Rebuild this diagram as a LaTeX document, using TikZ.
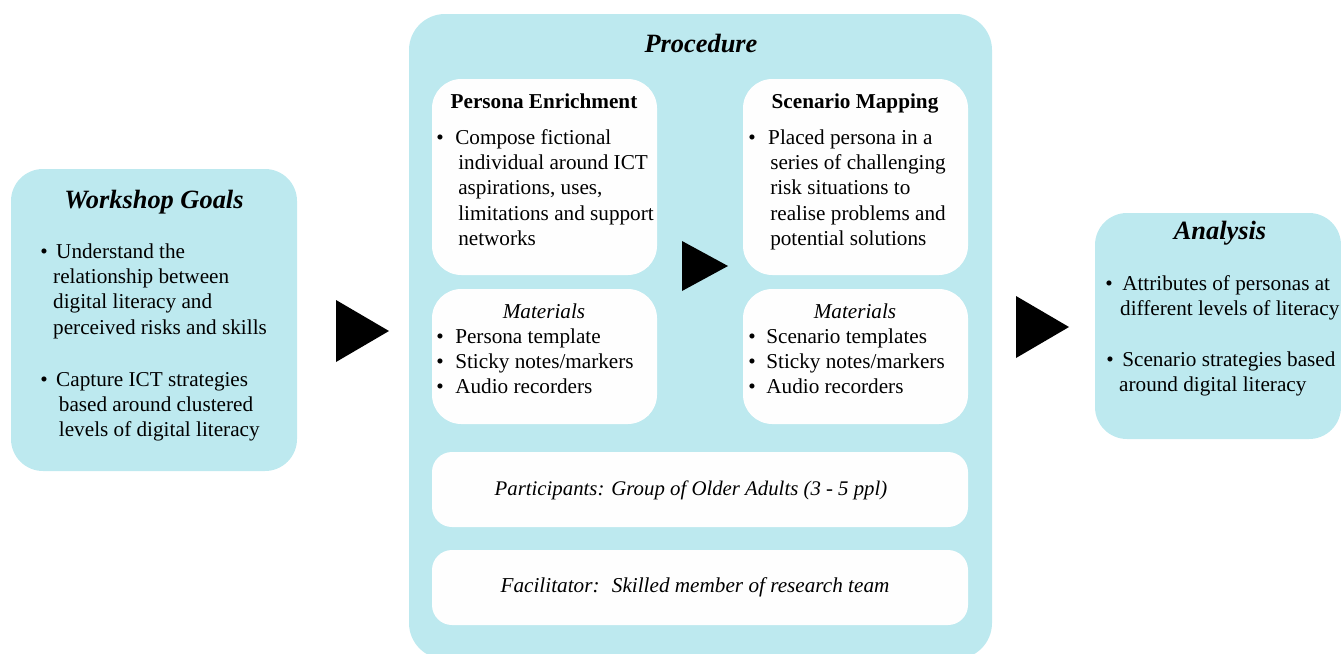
\documentclass[tikz,border=0pt]{standalone}
\usepackage{fontspec}
\setmainfont{Liberation Serif}
\usetikzlibrary{fit}
\definecolor{cyanbg}{HTML}{BDE9EF}
\definecolor{whitebox}{HTML}{FEFEFE}
\newcommand\bodyf{\fontsize{15.9}{19.1}\selectfont}
\newcommand\headf{\fontsize{19.8}{23}\selectfont\bfseries\itshape}
\tikzset{
  outerbox/.style={fill=cyanbg, draw=none, rounded corners=24pt, inner sep=0pt},
  innerbox/.style={fill=whitebox, draw=none, rounded corners=22pt, inner sep=0pt},
  flatbox/.style={fill=whitebox, draw=none, rounded corners=15pt, inner sep=0pt},
  bodytxt/.style={inner sep=0pt, anchor=base west, font=\bodyf},
  headtxt/.style={inner sep=0pt, anchor=base, font=\headf},
  subhead/.style={inner sep=0pt, anchor=base, font=\bodyf\bfseries},
  ittxt/.style={inner sep=0pt, anchor=base, font=\bodyf\itshape},
  tri/.style={fill=black, draw=none}
}
\begin{document}
\begin{tikzpicture}[x=0.75pt, y=-0.75pt]
\useasboundingbox (0,0) rectangle (1341,653);

% Workshop Goals
\node[outerbox, fit={(11,169) (297,471)}] (wg) {};
\node[headtxt] (wgt) at (154,208) {Workshop Goals};
\node[bodytxt] (wg1) at (40,258) {\begin{tabular}[t]{@{}l@{}}
•\hspace*{6.4pt}Understand the\\
\hspace*{9.7pt}relationship between\\
\hspace*{9.7pt}digital literacy and\\
\hspace*{9.7pt}perceived risks and skills\end{tabular}};
\node[bodytxt] (wg2) at (40,386) {\begin{tabular}[t]{@{}l@{}}
•\hspace*{6.4pt}Capture ICT strategies\\
\hspace*{14pt}based around clustered\\
\hspace*{14pt}levels of digital literacy\end{tabular}};

% Procedure
\node[outerbox, rounded corners=27pt, fit={(409,14) (992,659)}] (pr) {};
\node[headtxt] (prt) at (701,52) {Procedure};

\node[innerbox, fit={(432,79) (657,275)}] (pe) {};
\node[subhead] (pet) at (544,108) {Persona Enrichment};
\node[bodytxt] (pe1) at (436,144) {\begin{tabular}[t]{@{}l@{}}
•\hspace*{8.7pt}Compose fictional\\
\hspace*{16.5pt}individual around ICT\\
\hspace*{16.5pt}aspirations, uses,\\
\hspace*{16.5pt}limitations and support\\
\hspace*{16.5pt}networks\end{tabular}};

\node[innerbox, fit={(743,79) (968,275)}] (sm) {};
\node[subhead] (smt) at (855,108) {Scenario Mapping};
\node[bodytxt] (sm1) at (748,144) {\begin{tabular}[t]{@{}l@{}}
•\hspace*{9.4pt}Placed persona in a\\
\hspace*{16.5pt}series of challenging\\
\hspace*{16.5pt}risk situations to\\
\hspace*{16.5pt}realise problems and\\
\hspace*{16.5pt}potential solutions\end{tabular}};

\node[innerbox, fit={(432,289) (657,424)}] (ml) {};
\node[ittxt] (mlt) at (544,318) {Materials};
\node[bodytxt] (ml1) at (436,343) {\begin{tabular}[t]{@{}l@{}}
•\hspace*{8.7pt}Persona template\\
•\hspace*{8.7pt}Sticky notes/markers\\
•\hspace*{8.7pt}Audio recorders\end{tabular}};

\node[innerbox, fit={(743,289) (968,424)}] (mr) {};
\node[ittxt] (mrt) at (855,318) {Materials};
\node[bodytxt] (mr1) at (748,343) {\begin{tabular}[t]{@{}l@{}}
•\hspace*{8pt}Scenario templates\\
•\hspace*{8pt}Sticky notes/markers\\
•\hspace*{8pt}Audio recorders\end{tabular}};

\node[flatbox, fit={(432,452) (968,527)}] (pa) {};
\node[ittxt, font=\fontsize{15.6}{19}\selectfont\itshape] (pat) at (691,495) {Participants: Group of Older Adults (3 - 5 ppl)};

\node[flatbox, fit={(432,550) (968,625)}] (fa) {};
\node[ittxt] (fat) at (695,592) {Facilitator: \ Skilled member of research team};

% Analysis
\node[outerbox, fit={(1095,213) (1341,439)}] (an) {};
\node[headtxt] (ant) at (1220,239) {Analysis};
\node[bodytxt] (an1) at (1105,290) {\begin{tabular}[t]{@{}l@{}}
•\hspace*{7.2pt}Attributes of personas at\\
\hspace*{11.2pt}different levels of literacy\end{tabular}};
\node[bodytxt] (an2) at (1106,366) {\begin{tabular}[t]{@{}l@{}}
•\hspace*{6.5pt}Scenario strategies based\\
\hspace*{9.7pt}around digital literacy\end{tabular}};

% Triangles
\fill[tri] (336,300) -- (389,331) -- (336,362) -- cycle;
\fill[tri] (682,241) -- (728,266) -- (682,291) -- cycle;
\fill[tri] (1016,296) -- (1069,327) -- (1016,358) -- cycle;
\end{tikzpicture}
\end{document}
